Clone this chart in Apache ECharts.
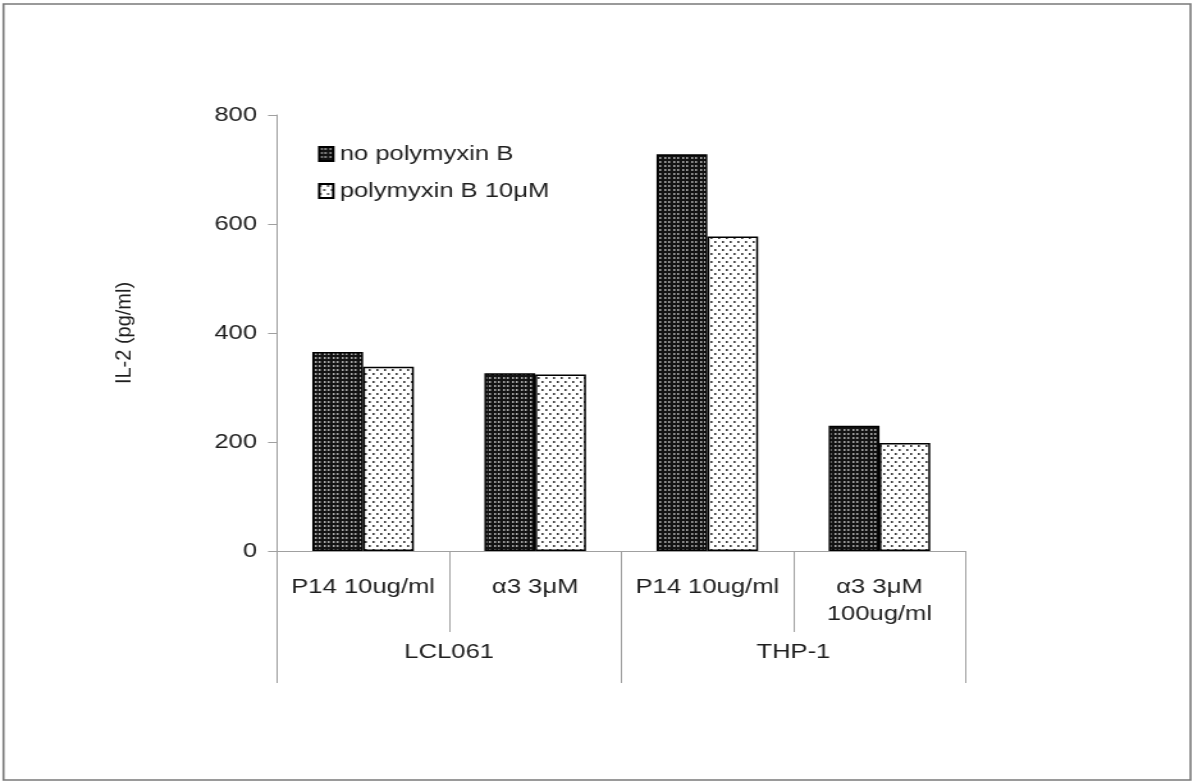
<!DOCTYPE html>
<html>
<head>
<meta charset="utf-8">
<script src="https://cdn.jsdelivr.net/npm/echarts@6/dist/echarts.min.js"></script>
<style>
  html, body { margin: 0; padding: 0; background: #fff; overflow: hidden; }
  #wrap { width: 1195px; height: 782px; overflow: hidden; }
  #chart { height: 782px; transform-origin: 0 0; }
</style>
</head>
<body>
<div id="wrap"><div id="chart"></div></div>
<script>
// Treatments (first axis row) and cell lines (second axis row)
const treatments = ['P14 10ug/ml', 'α3 3μM', 'P14 10ug/ml', 'α3 3μM\n100ug/ml'];
const cellLines = ['LCL061', 'THP-1'];
const seriesNames = ['no polymyxin B', 'polymyxin B 10μM'];
const yAxisTitle = 'IL-2 (pg/ml)';

// IL-2 (pg/ml)
const noPolymyxin = [365, 326, 728, 230];
const withPolymyxin = [338, 324, 577, 198];

const yTicks = { min: 0, max: 800, interval: 200 };

// The figure uses a horizontally widened typeface; the chart is laid out
// in a narrower box and widened by SX so text and marks share that look.
const SX = 1.28;
const W = 1195 / SX;
const el = document.getElementById('chart');
el.style.width = W + 'px';
el.style.transform = 'scaleX(' + SX + ')';
const px = v => v / SX;   // screen x-distance -> layout x-distance

// Fill patterns: dense light dots on black, sparse dark dots on white
function makeTile(w, h, bg, dot, dots, dw, dh) {
  const c = document.createElement('canvas');
  c.width = w; c.height = h;
  const g = c.getContext('2d');
  g.fillStyle = bg; g.fillRect(0, 0, w, h);
  g.fillStyle = dot;
  dots.forEach(([x, y]) => g.fillRect(x, y, dw, dh));
  return c;
}
const darkFill = { image: makeTile(7, 4, '#131313', '#a8a8a8', [[1, 1], [4, 1]], 1.5, 2), repeat: 'repeat' };
const lightFill = { image: makeTile(6, 8, '#ffffff', '#3c3c3c', [[0, 1], [3, 5]], 1.6, 2), repeat: 'repeat' };

const FONT = '"Liberation Sans", Arial, sans-serif';
const axisGray = '#a0a0a0';
const textColor = '#1e1e1e';

const chart = echarts.init(el, null, { renderer: 'canvas' });
chart.setOption({
  animation: false,
  backgroundColor: '#fff',
  textStyle: { fontFamily: FONT },
  graphic: [{
    type: 'rect',
    shape: { x: px(3.5), y: 4, width: px(1187), height: 776 },
    style: { fill: 'none', stroke: '#7a7a7a', lineWidth: 1.6 },
    silent: true
  }, {
    // vertical axis title, un-widened so the rotated glyphs keep normal proportions
    type: 'text',
    x: px(125),
    y: 333,
    rotation: Math.PI / 2,
    scaleY: 1 / SX,
    style: {
      text: yAxisTitle,
      fontSize: 20,
      fontFamily: FONT,
      fill: textColor,
      align: 'center',
      verticalAlign: 'middle'
    },
    silent: true
  }],
  grid: { left: px(277), right: px(230), top: 115, bottom: 231, containLabel: false },
  legend: {
    orient: 'vertical',
    left: px(318),
    top: 144,
    padding: 0,
    itemGap: 17,
    itemWidth: px(14),
    itemHeight: 14,
    icon: 'rect',
    textStyle: { fontSize: 20, color: textColor, fontFamily: FONT },
    data: seriesNames
  },
  xAxis: [{
    type: 'category',
    data: treatments,
    position: 'bottom',
    offset: 0,
    axisLine: { lineStyle: { color: axisGray, width: 1 } },
    axisTick: { show: true, length: 81, lineStyle: { color: axisGray } },
    axisLabel: {
      margin: 23, fontSize: 20, color: textColor, lineHeight: 27,
      interval: 0, fontFamily: FONT
    },
    splitLine: { show: false }
  }, {
    type: 'category',
    data: cellLines,
    position: 'bottom',
    offset: 0,
    axisLine: { show: false },
    axisTick: { show: true, length: 132, lineStyle: { color: axisGray } },
    axisLabel: { margin: 91, fontSize: 20, color: textColor, interval: 0, fontFamily: FONT },
    splitLine: { show: false }
  }],
  yAxis: {
    type: 'value',
    min: yTicks.min,
    max: yTicks.max,
    interval: yTicks.interval,
    axisLine: { show: true, lineStyle: { color: axisGray, width: 1 } },
    axisTick: { show: true, length: px(9), lineStyle: { color: axisGray } },
    axisLabel: { margin: px(20), fontSize: 20, color: textColor, fontFamily: FONT },
    splitLine: { show: false }
  },
  series: [{
    name: seriesNames[0],
    type: 'bar',
    xAxisIndex: 0,
    data: noPolymyxin,
    barGap: '0%',
    barCategoryGap: '41%',
    itemStyle: { color: darkFill, borderColor: '#000', borderWidth: 1.5 }
  }, {
    name: seriesNames[1],
    type: 'bar',
    xAxisIndex: 0,
    data: withPolymyxin,
    barGap: '0%',
    barCategoryGap: '41%',
    itemStyle: { color: lightFill, borderColor: '#000', borderWidth: 1.5 }
  }]
});
</script>
</body>
</html>
